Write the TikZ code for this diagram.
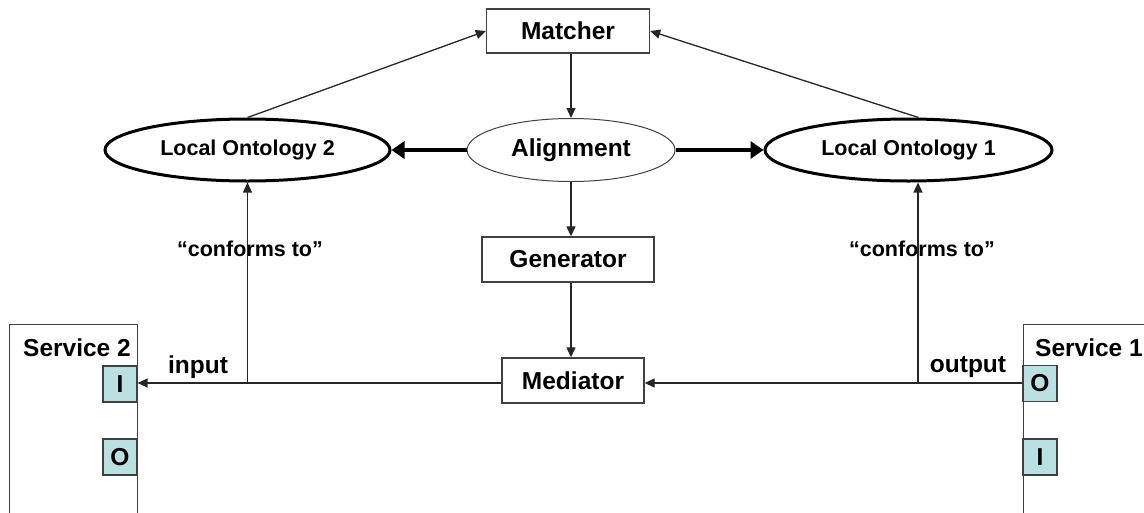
\documentclass[tikz,border=0pt]{standalone}
\usepackage{fontspec}
\setmainfont{Liberation Sans}
\usetikzlibrary{arrows.meta,shapes.geometric}
\definecolor{portfill}{RGB}{187,224,226}
\definecolor{edge}{RGB}{64,64,64}
\begin{document}
\begin{tikzpicture}[x=1pt,y=-1pt,
  big/.style={font=\bfseries\fontsize{24.5}{28}\selectfont},
  mid/.style={font=\bfseries\fontsize{21.5}{25}\selectfont},
  box/.style={draw=edge,line width=1.4pt,fill=white,inner sep=0pt,big},
  thinell/.style={ellipse,draw=edge,line width=1pt,inner sep=0pt,big},
  onto/.style={ellipse,draw=black,line width=3pt,inner sep=0pt,mid},
  port/.style={draw=edge,line width=1.2pt,fill=portfill,inner sep=0pt,
    minimum width=34,minimum height=36,big},
  arr/.style={draw=black!85,line width=1.3pt,-{Triangle[length=10pt,width=9pt]}},
  plain/.style={draw=black!85,line width=1.3pt},
  thick arr/.style={draw=black,line width=4.5pt,-{Triangle[length=13pt,width=17pt]}}]
\clip (0,0) rectangle (1144,512);

% central chain
\node[box,minimum width=163,minimum height=44] (matcher) at (568,31) {Matcher};
\node[thinell,minimum width=208,minimum height=63] (align) at (571,150) {Alignment};
\node[box,minimum width=172,minimum height=45] (gen) at (568,259.5) {Generator};
\node[box,minimum width=142,minimum height=45] (med) at (573,380.5) {Mediator};

% local ontologies
\node[onto,minimum width=285,minimum height=62] (lo2) at (247.5,150) {Local Ontology 2};
\node[onto,minimum width=287,minimum height=62] (lo1) at (908.5,150) {Local Ontology 1};

% services with their ports
\node[box,anchor=north west,minimum width=128,minimum height=240] (s2) at (9,324) {};
\node[big] (s2t) at (77,348) {Service 2};
\node[port] (s2i) at (120,384) {I};
\node[port] (s2o) at (120,457) {O};

\node[box,anchor=north west,minimum width=160,minimum height=240] (s1) at (1023,324) {};
\node[big] (s1t) at (1089,348) {Service 1};
\node[port] (s1o) at (1040,383.5) {O};
\node[port] (s1i) at (1040,457) {I};

% junctions on the message line
\coordinate (j1) at (918,383);
\coordinate (j2) at (247.5,383);

% labels
\node[big] (in) at (198,367) {input};
\node[big] (out) at (968,367) {output};
\node[mid] (c2) at (250,249) {``conforms to''};
\node[mid] (c1) at (922,249) {``conforms to''};

% connectors
\draw[arr] (lo2.north) -- (matcher.west);
\draw[arr] (lo1.north) ++(10,0) -- (matcher.east);
\draw[arr] (align.north |- matcher.south) -- (align.north);
\draw[arr] (align.south) -- (align.south |- gen.north);
\draw[arr] (align.south |- gen.south) -- (align.south |- med.north);
\draw[thick arr] (align.west) -- (lo2.east);
\draw[thick arr] (align.east) -- (lo1.west);
\draw[arr] (j1 -| s1o.west) -- (j1 -| med.east);
\draw[arr] (j2 -| med.west) -- (j2 -| s2i.east);
\draw[arr] (j1) -- (j1 |- lo1.south);
\draw[arr] (j2) -- (lo2.south);
\end{tikzpicture}
\end{document}
